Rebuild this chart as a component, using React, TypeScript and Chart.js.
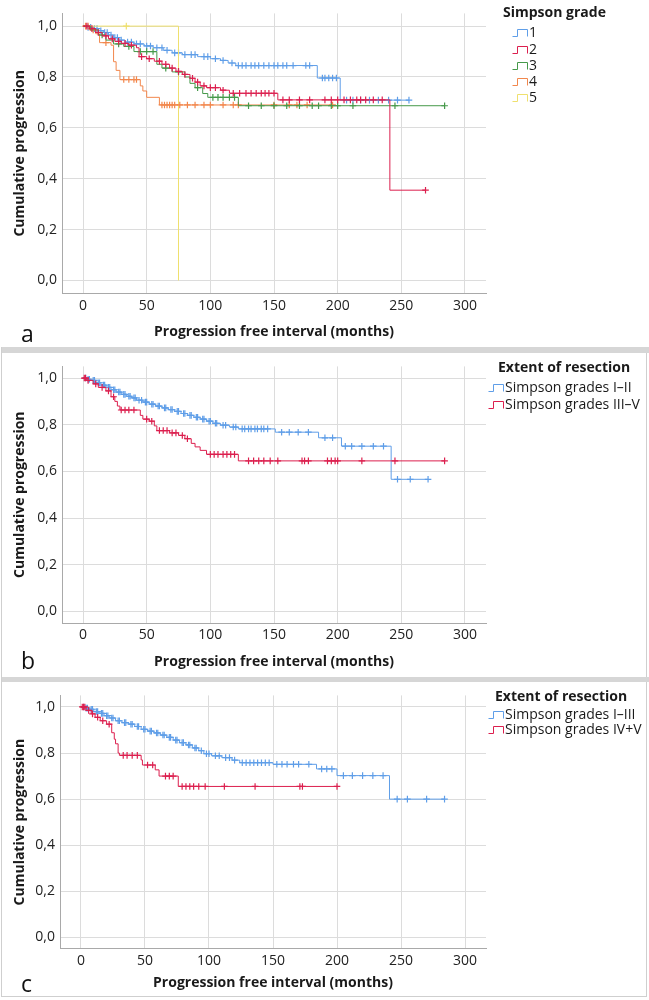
import { useEffect, useRef } from "react";
import { Chart, registerables } from "chart.js";
Chart.register(...registerables);

const FONT = "'Open Sans', sans-serif";

const xTickValues = [0, 50, 100, 150, 200, 250, 300];
const xTickLabels = ["0", "50", "100", "150", "200", "250", "300"];
const yTickValues = [0, 0.2, 0.4, 0.6, 0.8, 1.0];
const yTickLabels = ["0,0", "0,2", "0,4", "0,6", "0,8", "1,0"];

const xTitle = "Progression free interval (months)";
const yTitle = "Cumulative progression";

// ---- Panel a: Simpson grade 1..5
const gradeLabels = ["1", "2", "3", "4", "5"];
const a1Times = [3, 8, 12, 16, 20, 24, 28, 33, 40, 48, 55, 63, 70, 78, 90, 100, 108, 114, 120, 184, 202];
const a1Surv = [0.995, 0.99, 0.982, 0.975, 0.965, 0.955, 0.945, 0.937, 0.93, 0.922, 0.915, 0.905, 0.895, 0.888, 0.88, 0.872, 0.865, 0.855, 0.845, 0.796, 0.709];
const a1Censor = [4, 6, 9, 11, 14, 17, 19, 22, 25, 27, 30, 35, 38, 42, 45, 50, 53, 58, 62, 66, 72, 75, 80, 85, 88, 95, 98, 104, 110, 117, 122, 125, 128, 132, 135, 138, 142, 146, 150, 153, 157, 160, 165, 175, 178, 188, 190, 193, 196, 199, 207, 212, 218, 225, 232, 240, 247, 256];

const a2Times = [5, 10, 15, 20, 25, 30, 36, 42, 44, 50, 56, 62, 68, 73, 78, 84, 88, 92, 97, 108, 115, 153, 241];
const a2Surv = [0.99, 0.975, 0.962, 0.95, 0.94, 0.932, 0.925, 0.915, 0.88, 0.872, 0.862, 0.85, 0.835, 0.822, 0.81, 0.795, 0.78, 0.765, 0.758, 0.748, 0.736, 0.71, 0.355];
const a2Censor = [3, 7, 12, 18, 23, 28, 33, 38, 46, 52, 60, 65, 70, 75, 80, 86, 90, 95, 100, 104, 110, 118, 123, 128, 132, 136, 140, 143, 146, 150, 157, 162, 170, 178, 190, 195, 200, 205, 210, 215, 218, 222, 228, 235, 269];

const a3Times = [6, 12, 18, 24, 32, 40, 58, 62, 70, 80, 84, 88, 94, 98, 122];
const a3Surv = [0.985, 0.965, 0.945, 0.93, 0.92, 0.9, 0.85, 0.835, 0.82, 0.8, 0.775, 0.758, 0.735, 0.72, 0.687];
const a3Censor = [15, 28, 36, 45, 50, 55, 65, 75, 90, 102, 106, 110, 115, 119, 130, 140, 150, 160, 170, 180, 185, 195, 200, 212, 245, 284];

const a4Times = [5, 10, 13, 22, 24, 26, 29, 45, 47, 50, 60];
const a4Surv = [0.985, 0.97, 0.935, 0.925, 0.86, 0.826, 0.79, 0.765, 0.745, 0.72, 0.69];
const a4Censor = [2, 4, 8, 18, 32, 36, 40, 42, 62, 64, 66, 68, 70, 72, 76, 82, 88, 95, 100, 110, 118, 122, 150, 162, 168, 176, 196];

const a5Times = [75];
const a5Surv = [0];
const a5Censor = [34];

// ---- Panel b: Simpson I–II vs III–V
const bLabels = ["Simpson grades I\u2013II", "Simpson grades III\u2013V"];
const b1Times = [3, 6, 10, 14, 18, 22, 26, 30, 34, 38, 42, 47, 52, 57, 62, 67, 72, 77, 82, 87, 92, 97, 102, 108, 115, 122, 151, 185, 203, 242];
const b1Surv = [0.995, 0.99, 0.98, 0.97, 0.96, 0.95, 0.94, 0.93, 0.922, 0.915, 0.905, 0.897, 0.888, 0.88, 0.872, 0.865, 0.857, 0.848, 0.84, 0.832, 0.824, 0.815, 0.806, 0.798, 0.79, 0.782, 0.768, 0.744, 0.708, 0.566];
const b1Censor = [2, 4, 5, 8, 9, 12, 13, 16, 17, 20, 21, 24, 25, 28, 29, 32, 33, 36, 37, 40, 41, 44, 46, 49, 50, 54, 55, 59, 60, 64, 65, 69, 70, 74, 75, 79, 80, 84, 85, 89, 90, 94, 95, 99, 100, 104, 105, 110, 112, 118, 120, 125, 127, 130, 132, 135, 137, 140, 142, 145, 156, 162, 169, 177, 190, 196, 206, 211, 219, 228, 236, 247, 257, 271];

const b2Times = [3, 8, 12, 18, 22, 25, 27, 29, 45, 47, 52, 56, 58, 68, 75, 80, 85, 88, 92, 97, 122];
const b2Surv = [0.99, 0.975, 0.96, 0.945, 0.92, 0.9, 0.88, 0.863, 0.84, 0.824, 0.815, 0.795, 0.775, 0.765, 0.754, 0.74, 0.72, 0.705, 0.69, 0.673, 0.645];
const b2Censor = [1, 2, 4, 10, 15, 20, 24, 30, 33, 36, 40, 50, 54, 60, 63, 66, 70, 73, 78, 82, 100, 103, 106, 110, 113, 116, 119, 130, 134, 138, 142, 147, 153, 172, 174, 177, 192, 195, 198, 200, 219, 245, 284];

// ---- Panel c: Simpson I–III vs IV+V
const cLabels = ["Simpson grades I\u2013III", "Simpson grades IV+V"];
const c1Times = [3, 6, 10, 14, 18, 22, 27, 32, 37, 42, 47, 52, 57, 62, 67, 72, 77, 82, 87, 92, 96, 102, 110, 118, 124, 150, 184, 200, 241];
const c1Surv = [0.995, 0.99, 0.98, 0.972, 0.962, 0.952, 0.94, 0.932, 0.925, 0.915, 0.903, 0.895, 0.887, 0.878, 0.868, 0.856, 0.845, 0.835, 0.822, 0.81, 0.797, 0.788, 0.78, 0.769, 0.758, 0.751, 0.731, 0.702, 0.6];
const c1Censor = [2, 4, 5, 8, 9, 12, 13, 16, 17, 20, 21, 24, 25, 29, 30, 34, 35, 39, 40, 44, 45, 49, 50, 54, 55, 59, 60, 64, 65, 69, 70, 74, 75, 79, 80, 84, 85, 89, 90, 94, 98, 100, 105, 108, 113, 116, 120, 126, 129, 132, 135, 138, 141, 144, 147, 153, 157, 161, 166, 170, 178, 188, 192, 196, 205, 212, 220, 228, 236, 247, 255, 270, 284];

const c2Times = [4, 8, 11, 15, 20, 24, 26, 27, 29, 30, 47, 48, 58, 61, 76];
const c2Surv = [0.985, 0.97, 0.955, 0.94, 0.925, 0.888, 0.86, 0.84, 0.8, 0.79, 0.77, 0.748, 0.727, 0.7, 0.655];
const c2Censor = [1, 2, 3, 6, 9, 13, 17, 22, 33, 36, 40, 44, 52, 56, 66, 69, 72, 79, 82, 85, 88, 92, 97, 112, 136, 171, 173, 200];

const BLUE = "#5f9ee8";
const RED = "#dc1f4e";
const GREEN = "#46994a";
const ORANGE = "#f2874c";
const YELLOW = "#efe06e";

type Group = { label: string; color: string; times: number[]; surv: number[]; censor: number[] };

function survAt(g: Group, t: number) {
  let s = 1;
  for (let i = 0; i < g.times.length; i++) if (g.times[i] <= t) s = g.surv[i];
  return s;
}
function stepPoints(g: Group) {
  const pts = [{ x: 0, y: 1 }];
  g.times.forEach((t, i) => pts.push({ x: t, y: g.surv[i] }));
  const end = Math.max(...g.censor, ...g.times);
  const lastT = g.times[g.times.length - 1];
  if (end > lastT) pts.push({ x: end, y: survAt(g, end) });
  return pts;
}
function censorPoints(g: Group) {
  return g.censor.map((t) => ({ x: t, y: survAt(g, t) }));
}

type Panel = {
  top: number; height: number; yW: number; xH: number; padTop: number; titlePadB: number;
  xMin: number; xMax: number; groups: Group[]; drawOrder: number[];
  legendTitle: string; legendTitleX: number; legendTitleY: number; iconX: number; textX: number; itemY: number[];
};

const panels: Panel[] = [
  {
    top: 0, height: 347, yW: 62, xH: 53.8, padTop: 2.8, titlePadB: 6.6, xMin: -16.5, xMax: 316.5,
    groups: [
      { label: gradeLabels[0], color: BLUE, times: a1Times, surv: a1Surv, censor: a1Censor },
      { label: gradeLabels[1], color: RED, times: a2Times, surv: a2Surv, censor: a2Censor },
      { label: gradeLabels[2], color: GREEN, times: a3Times, surv: a3Surv, censor: a3Censor },
      { label: gradeLabels[3], color: ORANGE, times: a4Times, surv: a4Surv, censor: a4Censor },
      { label: gradeLabels[4], color: YELLOW, times: a5Times, surv: a5Surv, censor: a5Censor },
    ],
    drawOrder: [1, 2, 3, 4, 0],
    legendTitle: "Simpson grade", legendTitleX: 503, legendTitleY: 13, iconX: 512, textX: 529, itemY: [33, 50, 66, 82, 98],
  },
  {
    top: 353, height: 324, yW: 62, xH: 54, padTop: 6, titlePadB: 6.6, xMin: -16.5, xMax: 316.5,
    groups: [
      { label: bLabels[0], color: BLUE, times: b1Times, surv: b1Surv, censor: b1Censor },
      { label: bLabels[1], color: RED, times: b2Times, surv: b2Surv, censor: b2Censor },
    ],
    drawOrder: [1, 0],
    legendTitle: "Extent of resection", legendTitleX: 498, legendTitleY: 15, iconX: 488, textX: 505, itemY: [35, 52],
  },
  {
    top: 682, height: 315, yW: 60, xH: 48.05, padTop: 4.05, titlePadB: 5.6, xMin: -16.4, xMax: 316.4,
    groups: [
      { label: cLabels[0], color: BLUE, times: c1Times, surv: c1Surv, censor: c1Censor },
      { label: cLabels[1], color: RED, times: c2Times, surv: c2Surv, censor: c2Censor },
    ],
    drawOrder: [1, 0],
    legendTitle: "Extent of resection", legendTitleX: 495, legendTitleY: 15, iconX: 488, textX: 505, itemY: [33, 48],
  },
];

function legendPlugin(p: Panel) {
  return {
    id: "kmLegend",
    afterDraw(chart: any) {
      const ctx = chart.ctx;
      ctx.save();
      ctx.textBaseline = "middle";
      ctx.textAlign = "left";
      ctx.fillStyle = "#1a1a1a";
      ctx.font = `bold 14px ${FONT}`;
      ctx.fillText(p.legendTitle, p.legendTitleX, p.legendTitleY);
      ctx.font = `14px ${FONT}`;
      p.groups.forEach((g, i) => {
        const y = Math.round(p.itemY[i]) + 0.5;
        const x0 = p.iconX + 0.5;
        ctx.strokeStyle = g.color;
        ctx.lineWidth = 1;
        ctx.beginPath();
        ctx.moveTo(x0, y + 3);
        ctx.lineTo(x0 + 5, y + 3);
        ctx.lineTo(x0 + 5, y - 4);
        ctx.lineTo(x0 + 15, y - 4);
        ctx.lineTo(x0 + 15, y + 3);
        ctx.stroke();
        ctx.fillStyle = "#1a1a1a";
        ctx.fillText(g.label, p.textX, p.itemY[i] + 0.5);
      });
      ctx.restore();
    },
  };
}

function buildConfig(p: Panel): any {
  const datasets: any[] = [];
  p.drawOrder.forEach((gi) => {
    const g = p.groups[gi];
    datasets.push({
      data: censorPoints(g), showLine: false, pointStyle: "cross", pointRadius: 3.3,
      pointBorderWidth: 1.2, borderColor: g.color, backgroundColor: g.color, pointHoverRadius: 0,
    });
    datasets.push({
      data: stepPoints(g), stepped: true, borderColor: g.color, borderWidth: 1,
      pointRadius: 0, pointHoverRadius: 0, fill: false,
    });
  });
  return {
    type: "line",
    data: { datasets },
    options: {
      animation: false,
      responsive: false,
      events: [],
      layout: { padding: { top: p.padTop, right: 163, bottom: 0, left: 0 } },
      plugins: { legend: { display: false }, tooltip: { enabled: false } },
      scales: {
        x: {
          type: "linear", min: p.xMin, max: p.xMax,
          afterBuildTicks: (s: any) => { s.ticks = xTickValues.map((v) => ({ value: v })); },
          afterFit: (s: any) => { s.height = p.xH; },
          ticks: {
            callback: (_v: any, i: number) => xTickLabels[i], padding: 4, autoSkip: false, maxRotation: 0,
            color: "#222", font: { family: FONT, size: 14 },
          },
          grid: { color: "#dcdcdc", lineWidth: 1, drawTicks: false },
          border: { display: true, color: "#a9a9a9", width: 1 },
          title: {
            display: true, text: xTitle, color: "#1a1a1a",
            font: { family: FONT, size: 14, weight: "bold" }, padding: { top: 0, bottom: p.titlePadB },
          },
        },
        y: {
          type: "linear", min: -0.05, max: 1.05,
          afterBuildTicks: (s: any) => { s.ticks = yTickValues.map((v) => ({ value: v })); },
          afterFit: (s: any) => { s.width = p.yW; },
          ticks: {
            callback: (_v: any, i: number) => yTickLabels[i], padding: 5, autoSkip: false,
            color: "#222", font: { family: FONT, size: 14 },
          },
          grid: { color: "#dcdcdc", lineWidth: 1, drawTicks: false },
          border: { display: true, color: "#a9a9a9", width: 1 },
          title: {
            display: true, text: yTitle, color: "#1a1a1a",
            font: { family: FONT, size: 14, weight: "bold" }, padding: { top: 11.4, bottom: 0 },
          },
        },
      },
    },
    plugins: [legendPlugin(p)],
  };
}

function KMPanel({ p }: { p: Panel }) {
  const ref = useRef<HTMLCanvasElement>(null);
  useEffect(() => {
    const chart = new Chart(ref.current as HTMLCanvasElement, buildConfig(p));
    return () => chart.destroy();
  }, [p]);
  return (
    <canvas
      ref={ref}
      width={649}
      height={p.height}
      style={{ position: "absolute", left: 0, top: p.top, width: 649, height: p.height }}
    />
  );
}

const letterStyle = (top: number): any => ({
  position: "absolute", left: 21, top, fontFamily: FONT, fontSize: 23, lineHeight: "24px", color: "#111",
});

export default function App() {
  return (
    <div style={{ position: "absolute", left: 0, top: 0, width: 649, height: 1000, background: "#fff", overflow: "hidden" }}>
      <div style={{ position: "absolute", left: 1, top: 347, width: 646, height: 650, border: "1px solid #cfcfcf", boxSizing: "border-box" }} />
      <div style={{ position: "absolute", left: 2, top: 347, width: 647, height: 6, background: "#d6d6d6" }} />
      <div style={{ position: "absolute", left: 2, top: 677, width: 647, height: 5, background: "#d6d6d6" }} />
      {panels.map((p, i) => (
        <KMPanel key={i} p={p} />
      ))}
      <div style={letterStyle(321)}>a</div>
      <div style={letterStyle(648)}>b</div>
      <div style={letterStyle(971)}>c</div>
    </div>
  );
}
